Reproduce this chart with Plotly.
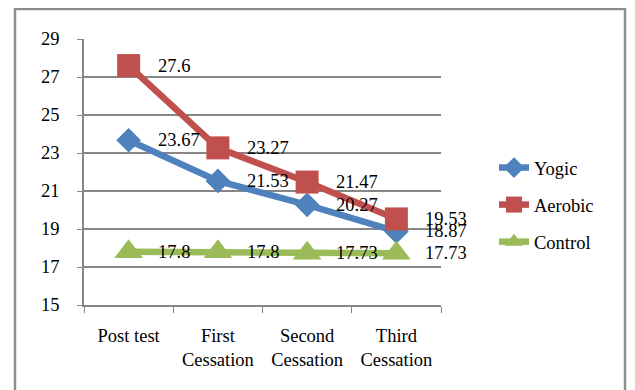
import plotly.graph_objects as go

categories = ["Post test", "First<br>Cessation", "Second<br>Cessation", "Third<br>Cessation"]
yogic = [23.67, 21.53, 20.27, 18.87]
aerobic = [27.6, 23.27, 21.47, 19.53]
control = [17.8, 17.8, 17.73, 17.73]
y_ticks = [15, 17, 19, 21, 23, 25, 27, 29]

series = [
    ("Yogic", yogic, "#4F81BD", "diamond", 19),
    ("Aerobic", aerobic, "#C0504D", "square", 23),
    ("Control", control, "#9BBB59", "triangle-up", 25),
]

FONT = "Liberation Serif, Times New Roman, serif"
FS = 18.5
D = 8  # page body margin offset

fig = go.Figure()
annotations = []
for i, (name, vals, color, sym, msize) in enumerate(series):
    fig.add_trace(go.Scatter(
        x=categories, y=vals, name=name, mode="lines+markers",
        line=dict(color=color, width=6.5),
        marker=dict(symbol=sym, size=msize, color=color),
        legendgroup=name,
    ))
    for c, v in zip(categories, vals):
        annotations.append(dict(
            x=c, y=v, xref="x", yref="y", text=f"{v:g}", showarrow=False,
            xanchor="left", yanchor="middle", xshift=27,
            font=dict(family=FONT, size=FS, color="black"),
        ))

W, H = 635 - D, 390 - D
L, R, T, B = 84 - D, 635 - 441, 39 - D, 390 - 305
pw, ph = W - L - R, H - T - B

def px(x):
    return (x - D - L) / pw

def py(y):
    return (H - B - (y - D)) / ph

fig.update_layout(
    width=W, height=H,
    margin=dict(l=L, r=R, t=T, b=B),
    plot_bgcolor="white", paper_bgcolor="white",
    font=dict(family=FONT, size=FS, color="black"),
    showlegend=True,
    legend=dict(
        x=px(494), y=py(205), xanchor="left", yanchor="middle",
        font=dict(family=FONT, size=FS, color="black"),
        traceorder="grouped", tracegroupgap=10,
        bgcolor="rgba(0,0,0,0)",
    ),
    annotations=annotations,
    shapes=[dict(
        type="rect", xref="paper", yref="paper",
        x0=px(15), x1=px(625), y0=py(400), y1=py(9),
        line=dict(color="#8C8C8C", width=2.5), layer="below",
    )],
)
fig.update_xaxes(
    type="category", range=[-0.5, 3.5],
    showline=True, linecolor="#868686", linewidth=1.5,
    ticks="outside", tickson="boundaries", ticklen=6, tickcolor="#868686",
    showgrid=False, ticklabelstandoff=13,
    tickfont=dict(family=FONT, size=FS, color="black"),
)
fig.update_yaxes(
    range=[15, 29], tickvals=y_ticks,
    showline=True, linecolor="#868686", linewidth=1.5,
    ticks="outside", ticklen=5, tickcolor="#868686",
    showgrid=True, gridcolor="#868686", gridwidth=1.5,
    zeroline=False, ticklabelstandoff=14,
    tickfont=dict(family=FONT, size=FS, color="black"),
)

fig.write_html("out.html")
